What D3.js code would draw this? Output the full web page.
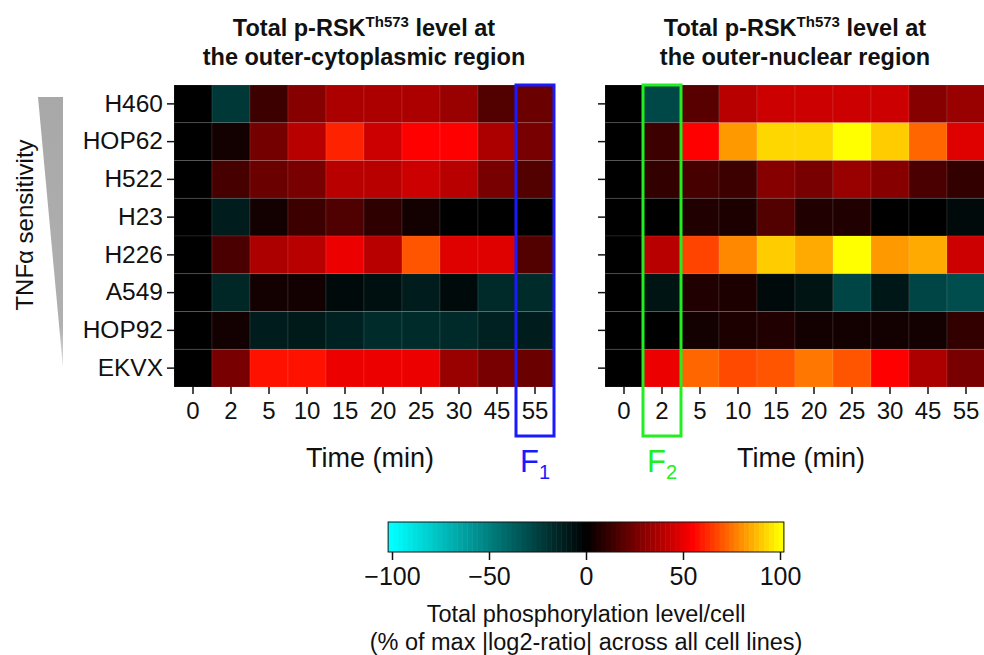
<!DOCTYPE html>
<html>
<head>
<meta charset="utf-8">
<script src="https://cdn.jsdelivr.net/npm/d3@7"></script>
<style>
  body { margin: 0; background: #fff; }
  text { font-family: "Liberation Sans", Arial, Helvetica, sans-serif; fill: #111; }
</style>
</head>
<body>
<div id="chart"></div>
<script>
const cellLines = ["H460", "HOP62", "H522", "H23", "H226", "A549", "HOP92", "EKVX"];
const timePoints = ["0", "2", "5", "10", "15", "20", "25", "30", "45", "55"];

// % of max |log2-ratio|, outer-cytoplasmic region (rows = cellLines, cols = timePoints)
const cytoValues = [
	[0, -22, 13, 29, 37, 37, 37, 33, 18, 23],
	[0, 4, 25, 40, 61, 44, 55, 55, 37, 26],
	[0, 15, 23, 26, 40, 40, 44, 40, 26, 18],
	[0, -11, 4, 13, 17, 10, 4, 0, 0, 0],
	[0, 16, 37, 40, 51, 40, 70, 48, 48, 18],
	[0, -15, 4, 4, -4, -6, -11, -4, -16, -17],
	[0, 4, -11, -10, -13, -17, -17, -16, -13, -11],
	[0, 26, 58, 58, 51, 51, 51, 33, 26, 23],
];

// outer-nuclear region
const nuclearValues = [
	[0, -28, 19, 40, 44, 44, 44, 44, 29, 33],
	[0, 13, 55, 82, 93, 93, 100, 91, 73, 48],
	[0, 11, 15, 13, 29, 26, 33, 29, 16, 11],
	[0, 0, 7, 6, 18, 7, 7, 0, 0, -4],
	[0, 40, 67, 79, 91, 85, 100, 82, 85, 44],
	[0, -8, 7, 6, -4, -8, -27, -9, -27, -30],
	[0, 0, 4, 6, 7, 4, 4, 4, 4, 11],
	[0, 51, 73, 68, 70, 76, 70, 55, 37, 26],
];

const colorbarTicks = [-100, -50, 0, 50, 100];

const WIDTH = 984,
	HEIGHT = 655;
const PANEL_W = 380,
	PANEL_H = 302;
const PANEL_TOP = 85;
const LEFT_X = 174,
	RIGHT_X = 605;

const svg = d3
	.select("#chart")
	.append("svg")
	.attr("width", WIDTH)
	.attr("height", HEIGHT);

const color = d3
	.scaleLinear()
	.domain([-100, 0, 55, 100])
	.range(["#00ffff", "#000000", "#ff0000", "#ffff00"])
	.clamp(true);

const x = d3.scaleBand().domain(timePoints).range([0, PANEL_W]);
const y = d3.scaleBand().domain(cellLines).range([0, PANEL_H]);

function drawPanel(x0, values, titleLine2, showLabels) {
	const g = svg.append("g").attr("transform", `translate(${x0}, ${PANEL_TOP})`);

	const cells = [];
	values.forEach((row, i) =>
		row.forEach((v, j) => cells.push({ line: cellLines[i], time: timePoints[j], v: v }))
	);

	g.selectAll("rect.cell")
		.data(cells)
		.enter()
		.append("rect")
		.attr("class", "cell")
		.attr("x", (d) => x(d.time))
		.attr("y", (d) => y(d.line))
		.attr("width", x.bandwidth())
		.attr("height", y.bandwidth())
		.attr("fill", (d) => color(d.v))
		.attr("stroke", "rgba(255,255,255,0.12)")
		.attr("stroke-width", 0.8);

	// axes
	const xAxis = g
		.append("g")
		.attr("transform", `translate(0, ${PANEL_H})`)
		.call(d3.axisBottom(x).tickSize(7).tickPadding(8).tickSizeOuter(0));
	xAxis.select(".domain").remove();
	xAxis.selectAll("line").attr("stroke", "#111").attr("stroke-width", 1.5);
	xAxis.selectAll("text").style("font-size", "24px").attr("fill", "#111");

	const yAxis = g
		.append("g")
		.call(d3.axisLeft(y).tickSize(7).tickPadding(4).tickSizeOuter(0));
	yAxis.select(".domain").remove();
	yAxis.selectAll("line").attr("stroke", "#111").attr("stroke-width", 1.5);
	yAxis.selectAll("text").style("font-size", "24.5px").attr("fill", "#111");
	if (!showLabels) yAxis.selectAll("text").remove();

	// title
	const title = g
		.append("text")
		.attr("x", PANEL_W / 2)
		.attr("y", -49)
		.attr("text-anchor", "middle")
		.style("font-size", "23.5px")
		.style("font-weight", "bold");
	title.append("tspan").text("Total p-RSK");
	title.append("tspan").attr("dy", -9).style("font-size", "15px").text("Th573");
	title.append("tspan").attr("dy", 9).text(" level at");

	g.append("text")
		.attr("x", PANEL_W / 2)
		.attr("y", -20)
		.attr("text-anchor", "middle")
		.style("font-size", "23.5px")
		.style("font-weight", "bold")
		.text(titleLine2);

	g.append("text")
		.attr("x", PANEL_W / 2 + 6)
		.attr("y", PANEL_H + 80)
		.attr("text-anchor", "middle")
		.style("font-size", "27px")
		.text("Time (min)");

	return g;
}

const left = drawPanel(LEFT_X, cytoValues, "the outer-cytoplasmic region", true);
const right = drawPanel(RIGHT_X, nuclearValues, "the outer-nuclear region", false);

// highlight boxes
function highlight(g, time, stroke, label, sub) {
	g.append("rect")
		.attr("x", x(time))
		.attr("y", 0)
		.attr("width", x.bandwidth())
		.attr("height", PANEL_H + 49)
		.attr("fill", "none")
		.attr("stroke", stroke)
		.attr("stroke-width", 3);
	const t = g
		.append("text")
		.attr("x", x(time) + x.bandwidth() / 2)
		.attr("y", PANEL_H + 85)
		.attr("text-anchor", "middle")
		.style("font-size", "31px")
		.style("fill", stroke);
	t.append("tspan").text(label);
	t.append("tspan").attr("dy", 7).style("font-size", "20px").text(sub);
}
highlight(left, "55", "#1a1aff", "F", "1");
highlight(right, "2", "#22ee22", "F", "2");

// TNFa sensitivity wedge
const wedgeFade = svg
	.append("defs")
	.append("linearGradient")
	.attr("id", "wedgeFade")
	.attr("x1", 0)
	.attr("y1", 0)
	.attr("x2", 0)
	.attr("y2", 1);
wedgeFade.append("stop").attr("offset", "0%").attr("stop-color", "#a8a8a8");
wedgeFade.append("stop").attr("offset", "85%").attr("stop-color", "#b0b0b0");
wedgeFade.append("stop").attr("offset", "100%").attr("stop-color", "#e0e0e0");
svg.append("path")
	.attr("d", "M38,97 L63,97 L63,368 Z")
	.attr("fill", "url(#wedgeFade)");
svg.append("text")
	.attr("transform", "translate(33, 225) rotate(-90)")
	.attr("text-anchor", "middle")
	.style("font-size", "24px")
	.text("TNFα sensitivity");

// colorbar
const cb = d3.scaleLinear().domain([-100, 100]).range([392, 780]);
const CB_TOP = 522,
	CB_H = 30;
const nBins = 80;
const binW = 204 / nBins;
const bins = d3.range(nBins).map((i) => -102 + i * binW);
svg.append("g")
	.selectAll("rect")
	.data(bins)
	.enter()
	.append("rect")
	.attr("x", (d) => cb(d))
	.attr("y", CB_TOP)
	.attr("width", cb(binW) - cb(0) + 0.5)
	.attr("height", CB_H)
	.attr("fill", (d) => color(d + binW / 2));
svg.append("rect")
	.attr("x", cb(-102))
	.attr("y", CB_TOP)
	.attr("width", cb(102) - cb(-102))
	.attr("height", CB_H)
	.attr("fill", "none")
	.attr("stroke", "#111")
	.attr("stroke-width", 1);

const cbAxis = svg
	.append("g")
	.attr("transform", `translate(0, ${CB_TOP + CB_H})`)
	.call(
		d3
			.axisBottom(cb)
			.tickValues(colorbarTicks)
			.tickSize(8)
			.tickPadding(7)
			.tickSizeOuter(0)
			.tickFormat((d) => (d < 0 ? "\u2212" + Math.abs(d) : d))
	);
cbAxis.select(".domain").remove();
cbAxis.selectAll("line").attr("stroke", "#111").attr("stroke-width", 1.5);
cbAxis.selectAll("text").style("font-size", "25px").attr("fill", "#111");

svg.append("text")
	.attr("x", 586)
	.attr("y", 622)
	.attr("text-anchor", "middle")
	.style("font-size", "23.5px")
	.text("Total phosphorylation level/cell");
svg.append("text")
	.attr("x", 586)
	.attr("y", 650)
	.attr("text-anchor", "middle")
	.style("font-size", "23.5px")
	.text("(% of max |log2-ratio| across all cell lines)");
</script>
</body>
</html>
